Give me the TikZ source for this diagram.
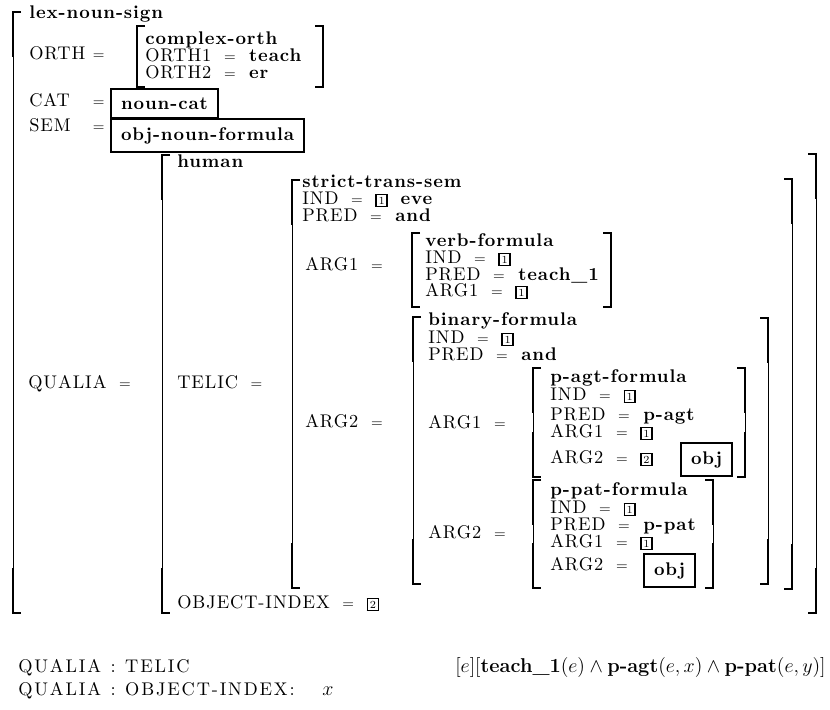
\documentclass[tikz,border=0pt]{standalone}
\usepackage{fontspec}
\usetikzlibrary{positioning}
\newfontfamily\avm{lmroman10-regular.otf}[WordSpace=1.8, LetterSpace=5, BoldFont=lmroman10-bold.otf]
\newfontfamily\avmcap{lmroman10-regular.otf}[WordSpace=1.2, LetterSpace=10]
\newcommand{\coref}[1]{{\setlength{\fboxsep}{1pt}\setlength{\fboxrule}{0.9pt}\fbox{\normalfont\fontsize{6.5}{7}\selectfont #1}}}
\newcommand{\aveq}{{\fontsize{9}{10}\selectfont=}}

\begin{document}
\begin{tikzpicture}[
  x=0.6pt, y=-0.6pt,
  lbl/.style={anchor=base west, inner sep=0pt, font=\avm\fontsize{11}{13}\selectfont},
  typ/.style={lbl, font=\avm\fontsize{11}{13}\selectfont\bfseries},
  pathlbl/.style={lbl, font=\avmcap\fontsize{11}{13}\selectfont},
  tbox/.style={draw, line width=1.2pt, font=\avm\fontsize{11}{13}\selectfont\bfseries, inner xsep=6pt, inner ysep=0pt, minimum height=20pt, anchor=north west},
  brk/.style={line width=0.6pt},
  brkc/.style={line width=1.2pt}
]
\useasboundingbox (0,0) rectangle (830,709);

% left brackets: x / top / bottom
\foreach \bx/\bt/\bb in {13/12/613, 137/26/87, 162/155/613, 292/180/588,
                         412/233/307, 413/317/584, 533/368/477, 533/480/588}{
  \pgfmathsetmacro{\hk}{min(45,(\bb-\bt)/2)}
  \draw[brk] (\bx,\bt) -- (\bx,\bb);
  \draw[brkc] (\bx+8,\bt) -- (\bx,\bt) -- (\bx,\bt+\hk);
  \draw[brkc] (\bx,\bb-\hk) -- (\bx,\bb) -- (\bx+8,\bb);
}
% right brackets
\foreach \bx/\bt/\bb in {323/26/87, 816/154/613, 792/179/589, 611/233/307,
                         768/318/584, 745/368/477, 713/480/588}{
  \pgfmathsetmacro{\hk}{min(45,(\bb-\bt)/2)}
  \draw[brk] (\bx,\bt) -- (\bx,\bb);
  \draw[brkc] (\bx-8,\bt) -- (\bx,\bt) -- (\bx,\bt+\hk);
  \draw[brkc] (\bx,\bb-\hk) -- (\bx,\bb) -- (\bx-8,\bb);
}

% sign
\node[typ] (lns) at (29,18.5) {lex-noun-sign};
\node[lbl] (orth) at (29,59) {ORTH\hspace{4.5pt}\aveq};
\node[typ] (cxo) at (145,44) {complex-orth};
\node[lbl] (orth1) at (145,61.5) {ORTH1 \aveq{} \textbf{teach}};
\node[lbl] (orth2) at (145,78) {ORTH2 \aveq{} \textbf{er}};
\node[lbl] (cat) at (29,106.7) {\rlap{CAT}\phantom{ORTH}\hspace{4.5pt}\aveq};
\node[tbox, minimum height=17.4pt] (catv) at (110,88) {noun-cat};
\node[lbl] (sem) at (29,131.7) {\rlap{SEM}\phantom{ORTH}\hspace{4.5pt}\aveq};
\node[tbox] (semv) at (110,118) {obj-noun-formula};

% qualia
\node[typ] (hum) at (177,167) {human};
\node[lbl] (qua) at (28,388) {QUALIA \aveq};
\node[lbl] (tel) at (177,388) {TELIC \aveq};
\node[lbl] (oix) at (177,608) {OBJECT-INDEX \aveq{} \coref{2}};

% telic value
\node[typ] (sts) at (302,187) {strict-trans-sem};
\node[lbl] (sts1) at (302,204) {IND \aveq{} \coref{1} \textbf{eve}};
\node[lbl] (sts2) at (302,221) {PRED \aveq{} \textbf{and}};
\node[lbl] (sts3) at (305,270) {ARG1 \aveq};
\node[lbl] (sts4) at (305,427) {ARG2 \aveq};

\node[typ] (vf) at (425,246.5) {verb-formula};
\node[lbl] (vf1) at (425,263) {IND \aveq{} \coref{1}};
\node[lbl] (vf2) at (425,280) {PRED \aveq{} \textbf{teach\_1}};
\node[lbl] (vf3) at (425,296) {ARG1 \aveq{} \coref{1}};

\node[typ] (bf) at (428,325) {binary-formula};
\node[lbl] (bf1) at (428,343) {IND \aveq{} \coref{1}};
\node[lbl] (bf2) at (428,360) {PRED \aveq{} \textbf{and}};
\node[lbl] (bf3) at (428,428) {ARG1 \aveq};
\node[lbl] (bf4) at (428,538) {ARG2 \aveq};

\node[typ] (pa) at (550,382) {p-agt-formula};
\node[lbl] (pa1) at (550,400) {IND \aveq{} \coref{1}};
\node[lbl] (pa2) at (550,420) {PRED \aveq{} \textbf{p-agt}};
\node[lbl] (pa3) at (550,437) {ARG1 \aveq{} \coref{1}};
\node[lbl] (pa4) at (550,463) {ARG2 \aveq{} \coref{2}};
\node[tbox] (paobj) at (680,442) {obj};

\node[typ] (pp) at (550,495) {p-pat-formula};
\node[lbl] (pp1) at (550,513) {IND \aveq{} \coref{1}};
\node[lbl] (pp2) at (550,530) {PRED \aveq{} \textbf{p-pat}};
\node[lbl] (pp3) at (550,547) {ARG1 \aveq{} \coref{1}};
\node[lbl] (pp4) at (550,570) {ARG2 \aveq};
\node[tbox] (ppobj) at (643,553) {obj};

% paths below the matrix
\node[pathlbl] (q1) at (18,672) {QUALIA : TELIC};
\node[anchor=base east, inner sep=0pt, font=\large] (f1) at (826,672)
  {$[e][\mbox{\bfseries teach\_1}(e)\wedge\mbox{\bfseries p-agt}(e,x)\wedge\mbox{\bfseries p-pat}(e,y)]$};
\node[pathlbl] (q2) at (18,695) {QUALIA : OBJECT-INDEX:};
\node[anchor=base west, inner sep=0pt, font=\large] (f2) at (322,695) {$x$};
\end{tikzpicture}
\end{document}
